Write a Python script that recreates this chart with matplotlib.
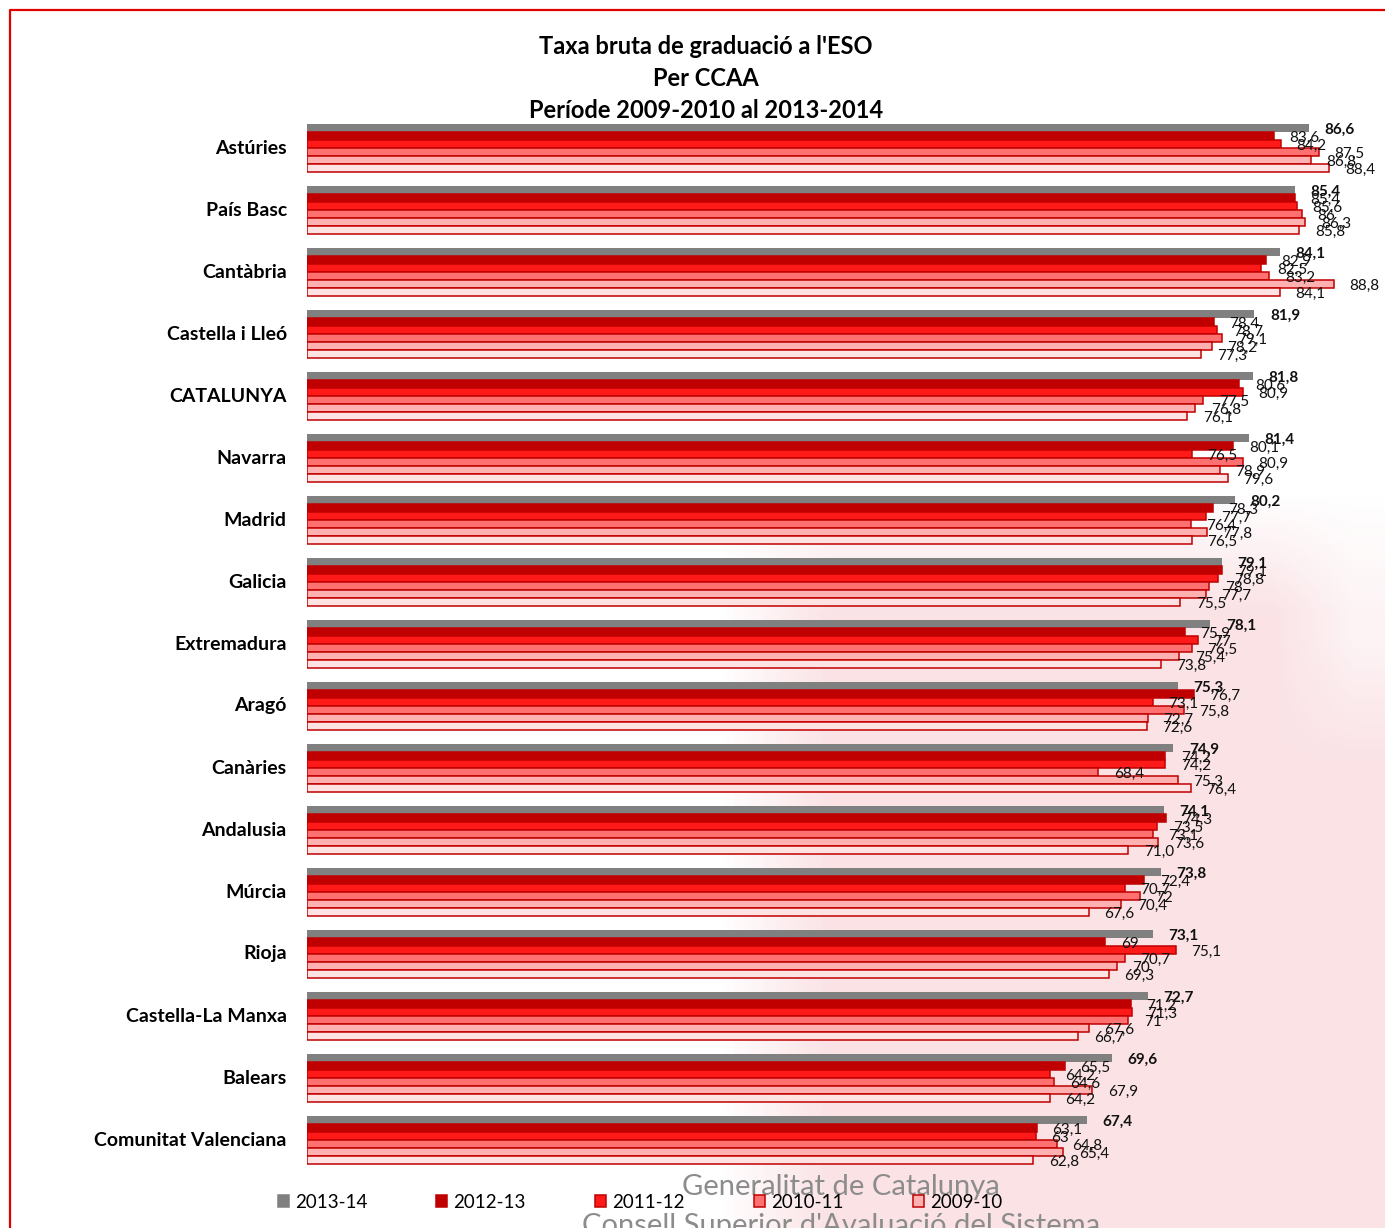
import numpy as np
import matplotlib.pyplot as plt
from matplotlib.patches import Patch

plt.rcParams['font.family'] = ['Lato', 'DejaVu Sans']

# Comunitats autònomes (ordre del gràfic, de dalt a baix)
ccaa = ['Astúries', 'País Basc', 'Cantàbria', 'Castella i Lleó', 'CATALUNYA',
        'Navarra', 'Madrid', 'Galicia', 'Extremadura', 'Aragó', 'Canàries',
        'Andalusia', 'Múrcia', 'Rioja', 'Castella-La Manxa', 'Balears',
        'Comunitat Valenciana']

# valors tal com surten a les etiquetes (enters = etiqueta sense decimals)
v_2013_14 = [86.6, 85.4, 84.1, 81.9, 81.8, 81.4, 80.2, 79.1, 78.1, 75.3, 74.9,
             74.1, 73.8, 73.1, 72.7, 69.6, 67.4]
v_2012_13 = [83.6, 85.4, 82.9, 78.4, 80.6, 80.1, 78.3, 79.1, 75.9, 76.7, 74.2,
             74.3, 72.4, 69, 71.2, 65.5, 63.1]
v_2011_12 = [84.2, 85.6, 82.5, 78.7, 80.9, 76.5, 77.7, 78.8, 77, 73.1, 74.2,
             73.5, 70.7, 75.1, 71.3, 64.2, 63]
v_2010_11 = [87.5, 86, 83.2, 79.1, 77.5, 80.9, 76.4, 78, 76.5, 75.8, 68.4,
             73.1, 72, 70.7, 71, 64.6, 64.8]
v_2009_10 = [86.8, 86.3, 88.8, 78.2, 76.8, 78.9, 77.8, 77.7, 75.4, 72.7, 75.3,
             73.6, 70.4, 70, 67.6, 67.9, 65.4]
v_extra = [88.4, 85.8, 84.1, 77.3, 76.1, 79.6, 76.5, 75.5, 73.8, 72.6, 76.4,
           71.0, 67.6, 69.3, 66.7, 64.2, 62.8]

series = [v_2013_14, v_2012_13, v_2011_12, v_2010_11, v_2009_10, v_extra]
legend_names = ['2013-14', '2012-13', '2011-12', '2010-11', '2009-10']
colors = ['#808080', '#C00000', '#FF1A1A', '#FF7070', '#FFB0B0', '#FFE3E3']
edges = ['#808080', '#C00000', '#C00000', '#C00000', '#C00000', '#C00000']

fig = plt.figure(figsize=(13.85, 12.28), dpi=100)

# fons: marca d'aigua rosada difuminada a la dreta
bg = fig.add_axes([0, 0, 1, 1], zorder=-10)
bg.axis('off')
yy, xx = np.mgrid[0:1:300j, 0:1:300j]
mask = np.clip((xx - 0.52) / 0.08, 0, 1) * np.clip((yy - 0.40) / 0.10, 0, 1)
mask *= 1 - 0.6 * np.clip((xx - 0.92) / 0.06, 0, 1) * np.clip((0.62 - yy) / 0.1, 0, 1)
img = np.zeros((300, 300, 4))
img[..., 0] = 0.93
img[..., 1] = 0.55
img[..., 2] = 0.60
img[..., 3] = 0.25 * mask
bg.imshow(img, extent=[0, 1, 0, 1], origin='upper', aspect='auto')
bg.set_xlim(0, 1)
bg.set_ylim(0, 1)
# marc vermell
bg.plot([0.0073, 0.0073, 1.0], [0.0, 0.9918, 0.9918], color='#E00000', lw=1.6)

ax = fig.add_axes([307 / 1385, 1 - 1171 / 1228, 1 - 307 / 1385, (1171 - 117) / 1228])
ax.set_facecolor('none')
ax.axis('off')

h = 8 / 62
y = np.arange(len(ccaa))
for k, vals in enumerate(series):
    yk = y - 24 / 62 + (k + 0.5) * h
    ax.barh(yk, vals, height=h, color=colors[k], edgecolor=edges[k],
            linewidth=1.1 if k > 0 else 0)
    for yi, v in zip(yk, vals):
        ax.text(v + 1.35, yi + 0.03, str(v).replace('.', ','),
                fontsize=11, ha='left', va='center',
                fontweight='bold' if k == 0 else 'normal', color='#111111')

for i, name in enumerate(ccaa):
    ax.text(-1.75, i, name, ha='right', va='center', fontsize=14,
            fontweight='bold', clip_on=False)

ax.set_xlim(0, 93.2)
ax.set_ylim(len(ccaa) - 0.5, -0.5)

fig.text(706 / 1385, 1 - 47 / 1228, "Taxa bruta de graduació a l'ESO",
         ha='center', va='center', fontsize=17, fontweight='bold')
fig.text(706 / 1385, 1 - 78 / 1228, "Per CCAA",
         ha='center', va='center', fontsize=17, fontweight='bold')
fig.text(706 / 1385, 1 - 110 / 1228, "Període 2009-2010 al 2013-2014",
         ha='center', va='center', fontsize=17, fontweight='bold')

# text de la marca d'aigua
fig.text(841 / 1385, 1 - 1187 / 1228, "Generalitat de Catalunya",
         ha='center', va='center', fontsize=21, color='#8C8C8C')
fig.text(841 / 1385, 1 - 1226 / 1228, "Consell Superior d'Avaluació del Sistema",
         ha='center', va='center', fontsize=21, color='#8C8C8C')

handles = [Patch(facecolor=colors[k], edgecolor=edges[k], linewidth=1.1,
                 label=legend_names[k]) for k in range(5)]
fig.legend(handles=handles, loc='center', bbox_to_anchor=(640 / 1385, 1 - 1202 / 1228),
           ncol=5, frameon=False, fontsize=13.5, handlelength=0.59,
           handleheight=0.59, handletextpad=0.32, columnspacing=3.7,
           borderaxespad=0)

fig.savefig('out.png', dpi=100)
